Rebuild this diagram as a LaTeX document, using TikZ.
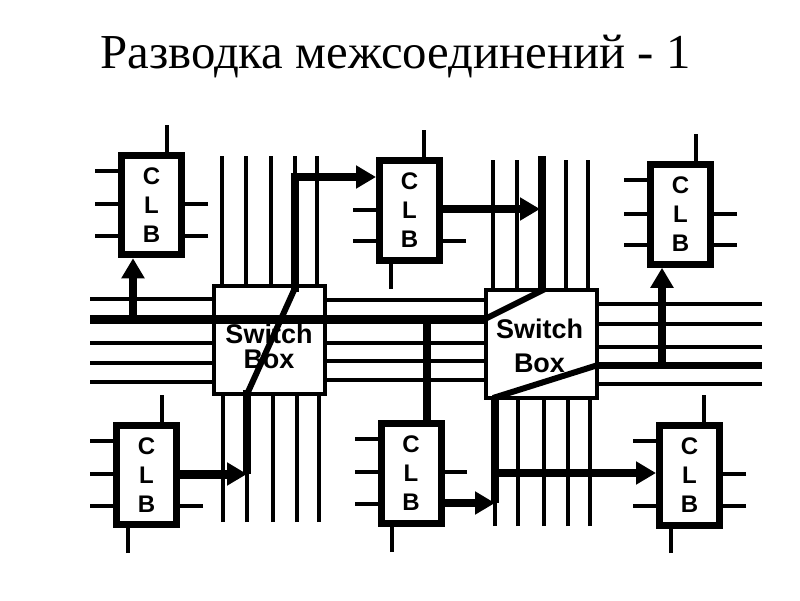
\documentclass[tikz,border=0pt]{standalone}
\usepackage{fontspec}
\setmainfont{Liberation Serif}
\newfontfamily\arialb[BoldFont={Liberation Sans Bold}]{Liberation Sans}
\usetikzlibrary{arrows.meta}
\tikzset{
  clb/.style={draw=black,line width=7pt,fill=white,minimum width=60pt,minimum height=99.5pt,inner sep=0pt,
    font=\arialb\bfseries\fontsize{24}{29}\selectfont,align=center},
  swbox/.style={draw=black,line width=4pt,fill=white,minimum width=111pt,minimum height=108pt,inner sep=0pt},
  swtext/.style={font=\arialb\bfseries\fontsize{27}{25}\selectfont,align=center,inner sep=0pt},
  pin/.style={line width=3.5pt,black},
  wire/.style={line width=4pt,black},
  thick wire/.style={line width=8pt,black},
  diag/.style={line width=6pt,black},
  tip/.style={line width=8pt,black,-{Triangle[length=20pt,width=22pt]}},
}
\begin{document}
\begin{tikzpicture}[x=1pt,y=-1pt]
\useasboundingbox (0,0) rectangle (800,600);
\node[font=\fontsize{48.8}{56}\selectfont,inner sep=0pt,anchor=base west] (title) at (100,68) {Разводка межсоединений - 1};
% boxes
\node[swbox] (s1) at (269.5,340) {};
\node[swbox] (s2) at (541,343.5) {};
\node[clb] (c1) at (151.5,205) {C\\L\\B};
\node[clb] (c2) at (409.5,210.5) {C\\L\\B};
\node[clb] (c3) at (680.5,214.5) {C\\L\\B};
\node[clb] (c4) at (146.5,475) {C\\L\\B};
\node[clb] (c5) at (411,473.5) {C\\L\\B};
\node[clb] (c6) at (689.5,475.5) {C\\L\\B};
\node[swtext] (s1t) at (269,346.5) {Switch\\Box};
\node[swtext] (s2t) at (539.5,349) {\begin{tabular}{@{}c@{}}Switch\\[8pt]Box\end{tabular}};
% CLB pins
\draw[pin] (167,125) -- (167,125 |- c1.north);
\foreach \y in {171,204,236} \draw[pin] (95,\y) -- (95,\y -| c1.west);
\foreach \y in {204,236} \draw[pin] (208,\y) -- (208,\y -| c1.east);
\draw[pin] (424,130) -- (424,130 |- c2.north);
\foreach \y in {210,241} \draw[pin] (353,\y) -- (353,\y -| c2.west);
\draw[pin] (466,241) -- (466,241 -| c2.east);
\draw[pin] (391,289) -- (391,289 |- c2.south);
\draw[pin] (696,134) -- (696,134 |- c3.north);
\foreach \y in {180,214,245} \draw[pin] (624,\y) -- (624,\y -| c3.west);
\foreach \y in {214,245} \draw[pin] (737,\y) -- (737,\y -| c3.east);
\draw[pin] (162,395) -- (162,395 |- c4.north);
\foreach \y in {441,474,506} \draw[pin] (90,\y) -- (90,\y -| c4.west);
\draw[pin] (203,506) -- (203,506 -| c4.east);
\draw[pin] (128,553) -- (128,553 |- c4.south);
\foreach \y in {439,472,504} \draw[pin] (355,\y) -- (355,\y -| c5.west);
\draw[pin] (467,472) -- (467,472 -| c5.east);
\draw[pin] (392,552) -- (392,552 |- c5.south);
\draw[pin] (704,395) -- (704,395 |- c6.north);
\foreach \y in {441,506} \draw[pin] (633,\y) -- (633,\y -| c6.west);
\foreach \y in {474,506} \draw[pin] (746,\y) -- (746,\y -| c6.east);
\draw[pin] (671,553) -- (671,553 |- c6.south);
% vertical tracks
\foreach \x in {222,246,271,295,317} \draw[wire] (\x,156) -- (\x,156 |- s1.north);
\foreach \x in {223,247,273,297,319} \draw[wire] (\x,522) -- (\x,522 |- s1.south);
\foreach \x in {493,517,566,588} \draw[wire] (\x,160) -- (\x,160 |- s2.north);
\foreach \x in {495,518,544,568,590} \draw[wire] (\x,526) -- (\x,526 |- s2.south);
% horizontal tracks
\foreach \y in {299,343,363,382} \draw[wire] (90,\y) -- (90,\y -| s1.west);
\foreach \y in {300,343,361,380} \draw[wire] (s1.east |- 0,\y) -- (s2.west |- 0,\y);
\foreach \y in {304,324,347,384} \draw[wire] (762,\y) -- (762,\y -| s2.east);
% routed nets
\coordinate (busL) at (90,319);
\coordinate (s1a) at (295,288);
\coordinate (s1b) at (248,392);
\coordinate (s2a) at (485,319);
\coordinate (s2b) at (545,289);
\coordinate (s2c) at (493,398);
\coordinate (s2d) at (598,365);
\coordinate (busR) at (762,365);
\coordinate (j4) at (247,474);
\coordinate (j5) at (495,503);
\draw[line width=9pt] (busL) -- (s2a);
\draw[tip] (133,319) -- (133,319 |- c1.south);
\draw[diag] (s1a) -- (s1b);
\draw[tip] (295,292) -- (295,177) -- (295,177 -| c2.west);
\draw[thick wire] (247,390) -- (j4);
\draw[tip,line width=9pt] (c4.east |- j4) -- (j4);
\draw[thick wire] (542,156) -- (542,292);
\draw[diag] (s2a) -- (s2b);
\draw[tip] (c2.east |- 0,209) -- (540,209);
\draw[thick wire] (427,319) -- (427,319 |- c5.north);
\draw[diag] (s2c) -- (s2d);
\draw[line width=7pt] (s2d) -- (busR);
\draw[tip] (662,365) -- (662,365 |- c3.south);
\draw[thick wire] (495,396) -- (495,503);
\draw[tip] (c5.east |- j5) -- (j5);
\draw[tip] (495,473) -- (495,473 -| c6.west);
\end{tikzpicture}
\end{document}
